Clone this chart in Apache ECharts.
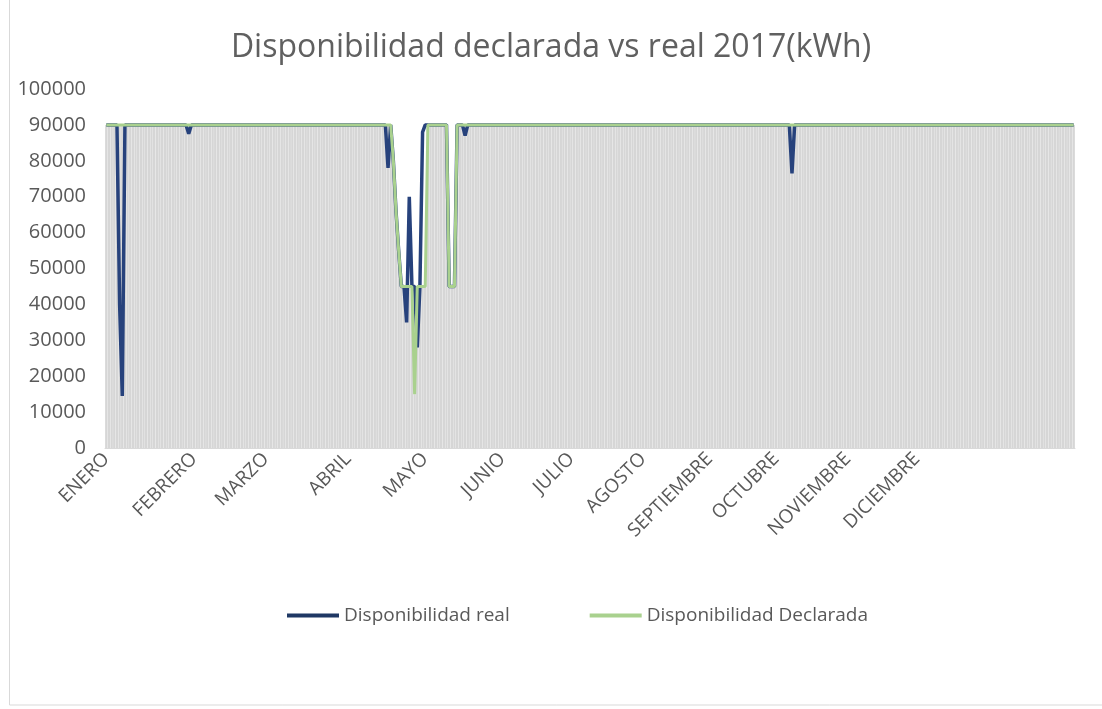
<!DOCTYPE html>
<html>
<head>
<meta charset="utf-8">
<script src="https://cdn.jsdelivr.net/npm/echarts@6/dist/echarts.min.js"></script>
<style>html,body{margin:0;padding:0;background:#fff;}#c{width:1102px;height:709px;}</style>
</head>
<body>
<div id="c"></div>
<script>
// ---- data ----
var dayCount = 365;
var monthNames = ['ENERO','FEBRERO','MARZO','ABRIL','MAYO','JUNIO','JULIO','AGOSTO','SEPTIEMBRE','OCTUBRE','NOVIEMBRE','DICIEMBRE'];
var monthLabelIdx = [0, 33, 60, 91, 120, 149, 175, 202, 227, 252, 279, 305];
var baseValue = 90000;
// [dayIndex, value] where the line departs from the 90000 baseline
var realDips = [
  [5, 40000], [6, 14500], [31, 87500], [106, 78000],
  [108, 80000], [109, 66000], [110, 55000], [111, 45000], [112, 45000],
  [113, 35000], [114, 70000], [115, 45000], [116, 45000], [117, 28000],
  [118, 45000], [119, 88000],
  [129, 45000], [130, 45000], [131, 45000],
  [135, 87000], [258, 76500]
];
var declaredDips = [
  [108, 80000], [109, 66000], [110, 55000], [111, 45000], [112, 45000],
  [113, 45000], [114, 45000], [115, 45000], [116, 15000], [117, 45000],
  [118, 45000], [119, 45000], [120, 45000],
  [129, 45000], [130, 45000], [131, 45000]
];
var yTicks = [0, 10000, 20000, 30000, 40000, 50000, 60000, 70000, 80000, 90000, 100000];

// ---- build ----
function buildSeries(dips) {
  var arr = [];
  for (var i = 0; i < dayCount; i++) arr.push(baseValue);
  dips.forEach(function (d) { arr[d[0]] = d[1]; });
  return arr;
}
var categories = [];
for (var i = 0; i < dayCount; i++) categories.push('');
monthLabelIdx.forEach(function (idx, k) { categories[idx] = monthNames[k]; });
var realData = buildSeries(realDips);
var declaredData = buildSeries(declaredDips);

var font = '"Open Sans", "Liberation Sans", sans-serif';
var chart = echarts.init(document.getElementById('c'), null, {renderer: 'canvas'});
chart.setOption({
  animation: false,
  backgroundColor: '#ffffff',
  title: {
    text: 'Disponibilidad declarada vs real 2017(kWh)',
    left: 'center', top: 27,
    textStyle: {fontFamily: font, fontSize: 32, fontWeight: 'normal', color: '#606060'}
  },
  legend: {
    data: [
      {name: 'Disponibilidad real', icon: 'rect', itemStyle: {color: '#1f3864'}},
      {name: 'Disponibilidad Declarada', icon: 'rect', itemStyle: {color: '#a9d18e'}}
    ],
    left: 282, top: 601,
    itemWidth: 52, itemHeight: 4, itemGap: 80,
    textStyle: {fontFamily: font, fontSize: 19, color: '#595959'}
  },
  grid: {left: 105, right: 27, top: 89, bottom: 261, containLabel: false},
  xAxis: {
    type: 'category',
    data: categories,
    boundaryGap: true,
    axisLine: {show: true, lineStyle: {color: '#d9d9d9'}},
    axisTick: {show: false},
    axisLabel: {interval: 0, rotate: 45, margin: 8, fontFamily: font, fontSize: 19, color: '#595959'},
    splitLine: {show: false}
  },
  yAxis: {
    type: 'value',
    min: yTicks[0], max: yTicks[yTicks.length - 1], interval: yTicks[1] - yTicks[0],
    axisLine: {show: false}, axisTick: {show: false},
    axisLabel: {margin: 19, fontFamily: font, fontSize: 20, color: '#595959',
      formatter: function (v) { return String(v); }},
    splitLine: {show: false}
  },
  graphic: [{
    type: 'rect', silent: true, z: -10,
    shape: {x: 9.5, y: -5, width: 1110, height: 710},
    style: {fill: 'none', stroke: '#d9d9d9', lineWidth: 1}
  }],
  series: [
    {
      name: 'fondo', type: 'bar', data: declaredData,
      barCategoryGap: '10%', silent: true,
      itemStyle: {color: '#d6d6d6'}, z: 1
    },
    {
      name: 'Disponibilidad real', type: 'line', data: realData,
      symbol: 'none', lineStyle: {color: '#27427c', width: 3.5},
      itemStyle: {color: '#27427c'}, z: 3
    },
    {
      name: 'Disponibilidad Declarada', type: 'line', data: declaredData,
      symbol: 'none', lineStyle: {color: '#a9d18e', width: 3},
      itemStyle: {color: '#a9d18e'}, z: 4
    }
  ]
});
</script>
</body>
</html>
